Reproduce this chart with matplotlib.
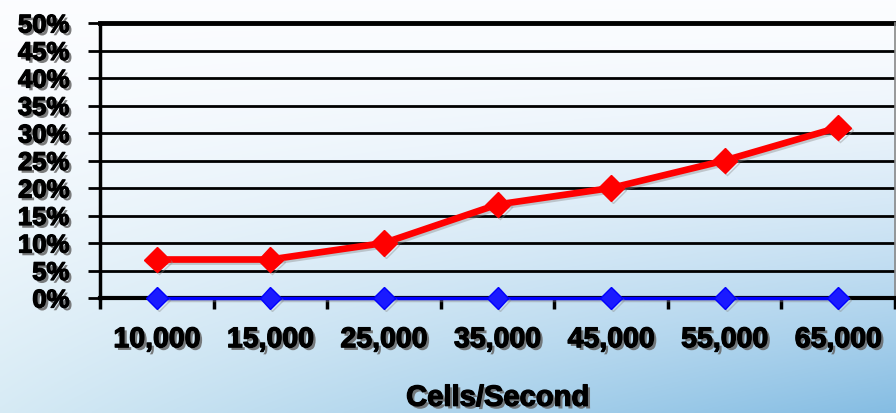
import numpy as np
import matplotlib
matplotlib.use("Agg")
import matplotlib.pyplot as plt
import matplotlib.patheffects as pe

categories = ["10,000", "15,000", "25,000", "35,000", "45,000", "55,000", "65,000"]
red_values = [7, 7, 10, 17, 20, 25, 31]
blue_values = [0, 0, 0, 0, 0, 0, 0]
y_ticks = [0, 5, 10, 15, 20, 25, 30, 35, 40, 45, 50]
y_tick_labels = [f"{v}%" for v in y_ticks]
x_title = "Cells/Second"

plt.rcParams['font.family'] = ['Liberation Sans', 'DejaVu Sans']

fig = plt.figure(figsize=(8.96, 4.13), dpi=100)

# background gradient
bg = fig.add_axes([0, 0, 1, 1], zorder=-10)
ny, nx = 200, 300
yy, xx = np.mgrid[0:1:ny*1j, 0:1:nx*1j]
top = np.array([0.985, 0.99, 1.0])
bl = np.array([0.84, 0.92, 0.96])
br = np.array([0.52, 0.74, 0.89])
bottom = bl[None, None, :] * (1 - xx[..., None]) + br[None, None, :] * xx[..., None]
t = (yy[..., None]) ** 1.6
img = top[None, None, :] * (1 - t) + bottom * t
bg.imshow(img, aspect='auto', extent=[0, 1, 1, 0])
bg.set_axis_off()

ax = fig.add_axes([100/896, 1 - 298/413, 795/896, 275/413])
ax.patch.set_alpha(0)
x = np.arange(len(categories))

shadow = [pe.SimplePatchShadow(offset=(2, -2), shadow_rgbFace='#666666', alpha=0.85),
          pe.withStroke(linewidth=0.9, foreground='black')]
lshadow = [pe.SimpleLineShadow(offset=(1.5, -1.5), shadow_color='#888888', alpha=0.4), pe.Normal()]

ax.plot(x, blue_values, color='#0000ff', lw=2.5, marker='D', ms=11, mec='#0000ff',
        mfc='#1a1aff', zorder=5, clip_on=False, path_effects=lshadow)
ax.plot(x, red_values, color='#ff0000', lw=4.8, marker='D', ms=13, mec='#ff0000',
        mfc='#ff0000', zorder=6, clip_on=False, path_effects=lshadow)

ax.set_xlim(-0.5, len(categories) - 0.5)
ax.set_ylim(0, 50)
ax.set_yticks(y_ticks)
ax.set_yticklabels(y_tick_labels)
ax.set_xticks(x)
ax.set_xticklabels(categories)
ax.set_xticks(np.arange(-0.5, len(categories), 1.0), minor=True)
ax.tick_params(axis='x', which='major', length=0, pad=21, labelsize=20.5)
ax.tick_params(axis='x', which='minor', length=8, width=2.5, color='black', direction='out')
ax.tick_params(axis='y', which='major', length=9, width=2, direction='out', pad=13, labelsize=18.5)
for lab in ax.get_xticklabels() + ax.get_yticklabels():
    lab.set_fontweight('bold')
    lab.set_path_effects(shadow)

ax.grid(axis='y', color='black', lw=2)
ax.set_axisbelow(True)
ax.spines['top'].set_visible(False)
ax.spines['left'].set_linewidth(2.5)
ax.spines['bottom'].set_linewidth(3)
ax.spines['right'].set_color('#888888')
ax.spines['right'].set_linewidth(1.2)
ax.axhline(50, color='black', lw=3.5, clip_on=False, zorder=2)

xl = ax.set_xlabel(x_title, fontsize=21, fontweight='bold', labelpad=22)
xl.set_path_effects(shadow)

fig.savefig("out.png", dpi=100)
